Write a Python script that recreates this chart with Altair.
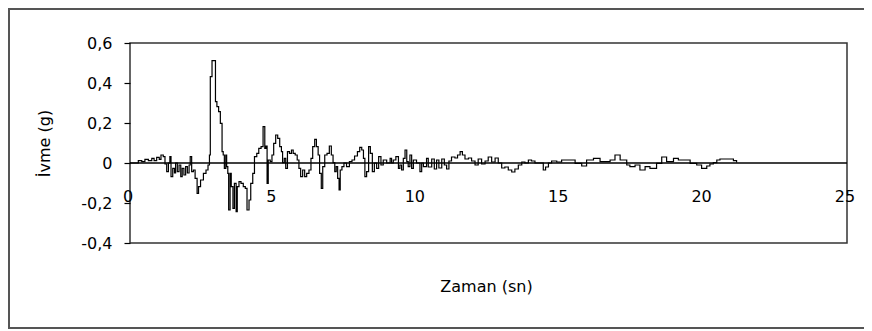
import altair as alt
import pandas as pd

# time (s) and acceleration (g)
T = [0.00, 0.12, 0.29, 0.41, 0.52, 0.64, 0.76, 0.84, 0.93, 1.02, 1.08, 1.16, 1.22, 1.28, 1.34, 1.39,
     1.43, 1.49, 1.55, 1.59, 1.65, 1.71, 1.77, 1.82, 1.88, 1.94, 2.00, 2.06, 2.10, 2.15, 2.21, 2.27,
     2.34, 2.39, 2.46, 2.56, 2.65, 2.72, 2.77, 2.80, 2.86, 2.94, 2.98, 3.03, 3.09, 3.15, 3.21, 3.25,
     3.29, 3.34, 3.37, 3.41, 3.44, 3.49, 3.53, 3.59, 3.64, 3.70, 3.74, 3.80, 3.87, 3.95, 4.02, 4.08,
     4.15, 4.21, 4.28, 4.34, 4.42, 4.49, 4.57, 4.64, 4.70, 4.74, 4.78, 4.82, 4.89, 4.95, 5.01, 5.08,
     5.15, 5.22, 5.28, 5.32, 5.38, 5.43, 5.49, 5.56, 5.63, 5.69, 5.76, 5.83, 5.89, 5.95, 6.02, 6.09,
     6.16, 6.24, 6.31, 6.37, 6.44, 6.50, 6.56, 6.61, 6.67, 6.72, 6.79, 6.87, 6.95, 7.02, 7.08, 7.14,
     7.19, 7.24, 7.29, 7.33, 7.39, 7.46, 7.55, 7.65, 7.74, 7.83, 7.93, 8.01, 8.08, 8.14, 8.19, 8.25,
     8.32, 8.38, 8.45, 8.52, 8.60, 8.67, 8.75, 8.83, 8.95, 9.07, 9.12, 9.18, 9.27, 9.36, 9.41, 9.47,
     9.53, 9.59, 9.65, 9.70, 9.76, 9.82, 9.88, 9.99, 10.11, 10.17, 10.23, 10.34, 10.40, 10.52, 10.61,
     10.69, 10.77, 10.87, 10.96, 11.04, 11.12, 11.21, 11.33, 11.42, 11.51, 11.59, 11.68, 11.80, 11.91,
     12.03, 12.14, 12.26, 12.38, 12.49, 12.61, 12.73, 12.84, 12.96, 13.07, 13.19, 13.31, 13.42, 13.54,
     13.66, 13.77, 13.89, 14.00, 14.12, 14.29, 14.41, 14.49, 14.59, 14.70, 14.88, 15.05, 15.23, 15.52,
     15.75, 15.92, 16.16, 16.39, 16.74, 16.91, 17.09, 17.32, 17.43, 17.61, 17.78, 17.96, 18.13, 18.36,
     18.54, 18.71, 18.95, 19.12, 19.29, 19.53, 19.76, 19.93, 20.11, 20.22, 20.34, 20.46, 20.57, 20.92,
     21.04, 21.15]
A = [0.000, 0.000, 0.012, 0.007, 0.018, 0.012, 0.023, 0.012, 0.028, 0.018, 0.040, 0.032, -0.005, -0.043, 0.000, 0.032,
     -0.068, -0.027, -0.050, 0.000, -0.043, -0.010, -0.068, -0.027, -0.060, -0.018, -0.050, -0.010, 0.032, -0.043, -0.035, -0.077,
     -0.152, -0.118, -0.085, -0.052, -0.035, -0.010, 0.040, 0.432, 0.512, 0.512, 0.307, 0.282, 0.257, 0.198, 0.057, 0.040,
     -0.027, 0.040, -0.018, -0.052, -0.235, -0.052, -0.118, -0.227, -0.102, -0.243, -0.118, -0.093, -0.102, -0.118, -0.127, -0.235,
     -0.185, -0.102, -0.052, 0.032, 0.048, 0.073, 0.082, 0.182, 0.073, 0.085, -0.102, 0.015, 0.007, 0.040, 0.098, 0.140,
     0.123, 0.082, 0.057, 0.002, 0.023, -0.027, 0.057, 0.048, 0.065, 0.048, 0.040, 0.015, -0.027, -0.068, -0.035, -0.068,
     -0.052, -0.035, 0.023, 0.082, 0.118, 0.082, 0.040, -0.052, -0.127, -0.018, 0.040, 0.048, 0.085, 0.040, 0.002, -0.043,
     -0.018, -0.077, -0.135, -0.035, -0.018, 0.000, -0.018, 0.007, 0.015, 0.035, 0.057, 0.078, 0.065, 0.023, -0.068, -0.043,
     0.082, 0.048, -0.043, 0.000, -0.027, 0.032, -0.010, 0.015, 0.000, 0.023, 0.000, 0.015, 0.032, -0.027, -0.010, -0.035,
     0.023, 0.065, 0.007, -0.018, 0.040, -0.027, 0.015, 0.000, -0.043, 0.000, -0.018, 0.023, -0.020, 0.020, -0.030,
     0.015, -0.025, 0.020, -0.010, -0.030, 0.010, 0.030, 0.025, 0.040, 0.057, 0.040, 0.020, 0.025, 0.010,
     -0.010, 0.020, -0.005, 0.010, 0.030, 0.005, 0.025, 0.000, -0.025, -0.020, -0.035, -0.045, -0.030, -0.010,
     0.005, 0.000, 0.015, 0.010, 0.000, 0.000, -0.035, -0.020, 0.000, 0.010, 0.005, 0.015, 0.015, -0.002,
     -0.015, 0.015, 0.023, 0.007, 0.015, 0.040, 0.015, -0.010, -0.018, -0.010, -0.035, -0.018, -0.027, -0.002,
     0.030, 0.007, 0.023, 0.015, 0.015, -0.002, -0.010, -0.027, -0.015, -0.005, 0.002, 0.015, 0.020, 0.020,
     0.012, 0.003]

X_TICKS = [0, 5, 10, 15, 20, 25]
X_LABELS = ["0", "5", "10", "15", "20", "25"]
Y_TICKS = [-0.4, -0.2, 0, 0.2, 0.4, 0.6]

FONT = "DejaVu Sans"
FS = 16

df = pd.DataFrame({"t": T, "a": A})
lab = pd.DataFrame({"t": X_TICKS, "lab": X_LABELS, "a": [-0.17] * len(X_TICKS)})
zdf = pd.DataFrame({"a": [0.0]})

xs = alt.Scale(domain=[0, 25], nice=False, zero=False)
ys = alt.Scale(domain=[-0.4, 0.6], nice=False, zero=False)

AX_X = alt.Axis(labels=False, ticks=False, domain=False, grid=False,
                title="Zaman (sn)", titleFont=FONT, titleFontSize=FS,
                titleFontWeight="normal", titleColor="black",
                titleX=356, titleY=43, titleBaseline="middle", titleAlign="center")
AX_Y = alt.Axis(values=Y_TICKS, grid=False, domain=False, labelOverlap=False,
                tickSize=6, tickColor="black", tickWidth=1.2, labelPadding=12,
                labelExpr="replace(toString(datum.value), '.', ',')",
                labelFont=FONT, labelFontSize=FS, labelColor="black",
                title="İvme (g)", titleFont=FONT, titleFontSize=FS,
                titleFontWeight="normal", titleColor="black",
                titleX=-86, titleY=100, titleAngle=270,
                titleBaseline="middle", titleAlign="center")

line = alt.Chart(df).mark_line(color="black", strokeWidth=1.2, interpolate="step-after").encode(
    x=alt.X("t:Q", scale=xs, axis=AX_X),
    y=alt.Y("a:Q", scale=ys, axis=AX_Y),
)

zero = alt.Chart(zdf).mark_rule(color="black", strokeWidth=1.3).encode(
    y=alt.Y("a:Q", scale=ys, axis=AX_Y)
)

xlabels = alt.Chart(lab).mark_text(font=FONT, fontSize=FS, color="black", baseline="middle",
                                   align="center", dx=-2).encode(
    x=alt.X("t:Q", scale=xs, axis=AX_X), y=alt.Y("a:Q", scale=ys, axis=AX_Y), text="lab:N"
)

frame = alt.Chart(zdf).mark_rect(fill=None, stroke="#555555", strokeWidth=2).encode(
    x=alt.value(-121), x2=alt.value(760), y=alt.value(-34), y2=alt.value(285)
)

chart = alt.layer(zero, line, xlabels, frame).properties(
    width=717, height=200,
    background="white",
    autosize=alt.AutoSizeParams(type="none"),
    padding={"left": 122, "top": 35, "right": 17, "bottom": 88},
).configure_view(stroke="#333333", strokeWidth=1.5)

chart.save("out.html", embed_options={"renderer": "svg", "actions": False})
